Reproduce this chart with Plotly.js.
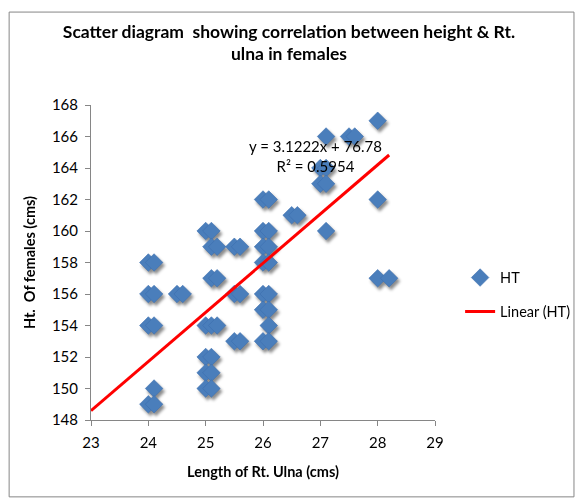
<!DOCTYPE html>
<html>
<head>
<meta charset="utf-8">
<script src="https://cdn.plot.ly/plotly-3.0.1.min.js"></script>
<style>
  html, body { margin: 0; padding: 0; background: #fff; }
  #chart { width: 578px; height: 500px; }
  .shadowed .points { filter: drop-shadow(2px 3px 1.5px rgba(0,0,0,0.45)); }
</style>
</head>
<body>
<div id="chart"></div>
<script>
// Right ulna length (cm)
const ulnaLength = [
  24.0, 24.1, 24.0, 24.1, 24.0, 24.1, 24.1, 24.0, 24.1,
  24.5, 24.6,
  25.0, 25.1, 25.1, 25.2, 25.5, 25.6, 25.1, 25.2, 25.5, 25.6,
  25.0, 25.1, 25.2, 25.5, 25.6, 25.0, 25.1, 25.0, 25.1, 25.0, 25.1,
  26.0, 26.1, 26.5, 26.6, 26.0, 26.1, 26.0, 26.1, 26.0, 26.1,
  26.0, 26.1, 26.0, 26.1, 26.1, 26.0, 26.1,
  27.0, 27.1, 27.0, 27.1, 27.1, 27.1, 27.5, 27.6,
  28.0, 28.0, 28.0, 28.2
];
// Height of females (cm)
const heightCm = [
  158, 158, 156, 156, 154, 154, 150, 149, 149,
  156, 156,
  160, 160, 159, 159, 159, 159, 157, 157, 156, 156,
  154, 154, 154, 153, 153, 152, 152, 151, 151, 150, 150,
  162, 162, 161, 161, 160, 160, 159, 159, 158, 158,
  156, 156, 155, 155, 154, 153, 153,
  164, 164, 163, 163, 160, 166, 166, 166,
  167, 162, 157, 157
];
// Trendline as printed on the chart
const trendSlope = 3.1222;
const trendIntercept = 76.78;
const trendX = [23, 28.2];
const trendY = trendX.map(x => trendSlope * x + trendIntercept);

const xTicks = [23, 24, 25, 26, 27, 28, 29];
const yTicks = [148, 150, 152, 154, 156, 158, 160, 162, 164, 166, 168];

const FONT = 'Lato, "Open Sans", sans-serif';

const traces = [
  {
    x: ulnaLength, y: heightCm, type: 'scatter', mode: 'markers', name: 'HT',
    legendgroup: 'a',
    marker: { symbol: 'diamond', size: 13.5, color: '#4A7EBB',
              line: { color: '#3D6FAE', width: 0.6 } }
  },
  {
    x: trendX, y: trendY, type: 'scatter', mode: 'lines', name: 'Linear (HT)',
    legendgroup: 'b',
    line: { color: '#FF0000', width: 3 }
  }
];

const layout = {
  width: 578, height: 500,
  paper_bgcolor: '#fff', plot_bgcolor: '#fff',
  margin: { l: 91, r: 143, t: 105, b: 80, autoexpand: false },
  font: { family: FONT, size: 15, color: '#000' },
  title: {
    text: '<b>Scatter diagram  showing correlation between height & Rt.<br>ulna in females</b>',
    x: 0.5, xref: 'container', xanchor: 'center',
    y: 0.925, yref: 'container', yanchor: 'top',
    font: { family: FONT, size: 17.5, color: '#000' }
  },
  showlegend: true,
  legend: {
    x: 1.073, xanchor: 'left', y: 0.398, yanchor: 'middle',
    font: { family: FONT, size: 14.5, color: '#000' },
    tracegroupgap: 12, bgcolor: 'rgba(0,0,0,0)'
  },
  xaxis: {
    range: [23, 29], tickvals: xTicks, ticktext: xTicks.map(String),
    showgrid: false, zeroline: false, showline: true, linecolor: '#868686', linewidth: 1,
    ticks: 'outside', ticklen: 5, tickcolor: '#868686', ticklabelstandoff: 4,
    tickfont: { family: FONT, size: 15, color: '#000' },
    title: { text: '<b>Length of Rt. Ulna (cms)</b>', standoff: 16,
             font: { family: FONT, size: 14.5, color: '#000' } }
  },
  yaxis: {
    range: [148, 168], tickvals: yTicks, ticktext: yTicks.map(String),
    showgrid: false, zeroline: false, showline: true, linecolor: '#868686', linewidth: 1,
    ticks: 'outside', ticklen: 5, tickcolor: '#868686', ticklabelstandoff: 4,
    tickfont: { family: FONT, size: 15, color: '#000' },
    title: { text: '<b>Ht.  Of females (cms)</b>', standoff: 12,
             font: { family: FONT, size: 14.5, color: '#000' } }
  },
  annotations: [
    {
      text: 'y = 3.1222x + 76.78<br>R² = 0.5954',
      x: 26.92, y: 164.75, xref: 'x', yref: 'y',
      xanchor: 'center', yanchor: 'middle', showarrow: false, align: 'center',
      font: { family: FONT, size: 15, color: '#000' }
    }
  ],
  shapes: [
    {
      type: 'rect', xref: 'paper', yref: 'paper',
      x0: -0.238, x1: 1.404, y0: -0.244, y1: 1.295,
      line: { color: '#868686', width: 1 }, fillcolor: 'rgba(0,0,0,0)', layer: 'below'
    }
  ]
};

Plotly.newPlot('chart', traces, layout, { displayModeBar: false, staticPlot: true }).then(gd => {
  const tr = gd.querySelectorAll('.scatterlayer .trace');
  if (tr.length) tr[0].classList.add('shadowed');
});
</script>
</body>
</html>
